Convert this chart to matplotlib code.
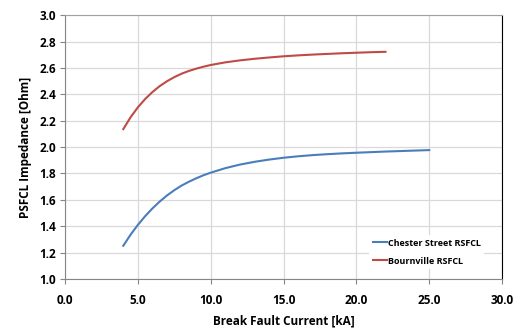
import matplotlib
matplotlib.use("Agg")
import matplotlib.pyplot as plt

# Break fault current [kA] vs PSFCL impedance [Ohm]
chester_ka = [4.0, 4.5, 5.0, 5.5, 6.0, 6.5, 7.0, 7.5, 8.0, 8.5, 9.0, 9.5, 10.0, 11.0,
              12.0, 13.0, 14.0, 15.0, 16.0, 17.0, 18.0, 19.0, 20.0, 22.0, 25.0]
chester_ohm = [1.252, 1.336, 1.41, 1.476, 1.535, 1.587, 1.633, 1.673, 1.708, 1.737,
               1.763, 1.786, 1.806, 1.84, 1.867, 1.888, 1.905, 1.919, 1.93, 1.939,
               1.946, 1.952, 1.957, 1.966, 1.977]

bourn_ka = [4.0, 4.5, 5.0, 5.5, 6.0, 6.5, 7.0, 7.5, 8.0, 8.5, 9.0, 9.5, 10.0, 11.0,
            12.0, 13.0, 14.0, 15.0, 16.0, 17.0, 18.0, 19.0, 20.0, 21.0, 22.0]
bourn_ohm = [2.136, 2.226, 2.301, 2.364, 2.417, 2.462, 2.499, 2.53, 2.556, 2.577,
             2.594, 2.609, 2.622, 2.642, 2.657, 2.669, 2.679, 2.688, 2.695, 2.701,
             2.706, 2.711, 2.715, 2.719, 2.722]

x_ticks = [0, 5, 10, 15, 20, 25, 30]
y_ticks = [1.0, 1.2, 1.4, 1.6, 1.8, 2.0, 2.2, 2.4, 2.6, 2.8, 3.0]

plt.rcParams["font.family"] = ["Open Sans", "DejaVu Sans"]
plt.rcParams["font.weight"] = "bold"

fig = plt.figure(figsize=(5.16, 3.29), dpi=100)
ax = fig.add_axes([0.126, 0.152, 0.847, 0.802])

ax.plot(chester_ka, chester_ohm, color="#4A7EBB", lw=1.5, label="Chester Street RSFCL",
        solid_joinstyle="round")
ax.plot(bourn_ka, bourn_ohm, color="#BE4B48", lw=1.5, label="Bournville RSFCL",
        solid_joinstyle="round")

ax.set_xlim(0, 30)
ax.set_ylim(1.0, 3.0)
ax.set_xticks(x_ticks)
ax.set_yticks(y_ticks)
ax.set_xticklabels([f"{v:.1f}" for v in x_ticks], fontweight="bold")
ax.set_yticklabels([f"{v:.1f}" for v in y_ticks], fontweight="bold")
ax.tick_params(labelsize=8.5, length=3.5, width=0.8, color="#868686", pad=3)
ax.tick_params(axis="x", pad=7)

ax.grid(True, color="#D9D9D9", lw=0.9)
ax.set_axisbelow(True)

for side in ("left", "bottom"):
    ax.spines[side].set_color("#868686")
ax.spines["top"].set_color("#A0A0A0")
ax.spines["right"].set_color("black")

ax.set_xlabel("Break Fault Current [kA]", fontsize=8.5, fontweight="bold", labelpad=6)
ax.set_ylabel("PSFCL Impedance [Ohm]", fontsize=8.5, fontweight="bold", labelpad=5)

leg = ax.legend(loc="lower right", bbox_to_anchor=(0.97, 0.02), fontsize=6.5,
                frameon=True, facecolor="white", edgecolor="none", framealpha=1,
                handlelength=1.6, handletextpad=0.1, labelspacing=1.0)
for t in leg.get_texts():
    t.set_fontweight("bold")

fig.savefig("out.png", dpi=100)
